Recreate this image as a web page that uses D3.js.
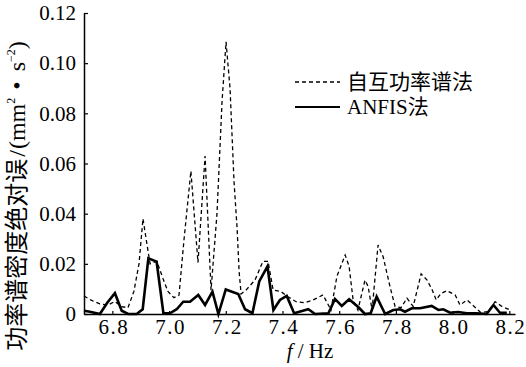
<!DOCTYPE html>
<html>
<head>
<meta charset="utf-8">
<script src="https://cdn.jsdelivr.net/npm/d3@7"></script>
<style>
    body { margin: 0; background: #fff; }
    svg { display: block; }
    text { font-family: "Liberation Serif", "Times New Roman", "DejaVu Serif", "Noto Sans CJK SC", serif; fill: #000; }
</style>
</head>
<body>
<script>
    // 自互功率谱法 (dashed)
    var crossFreq = [6.700, 6.725, 6.756, 6.785, 6.809, 6.831, 6.855, 6.876, 6.894, 6.908,
        6.919, 6.933, 6.957, 6.979, 6.996, 7.017, 7.035, 7.053, 7.077, 7.102,
        7.127, 7.148, 7.169, 7.187, 7.201, 7.215, 7.229, 7.240, 7.247, 7.254,
        7.271, 7.303, 7.331, 7.349, 7.367, 7.395, 7.419, 7.448, 7.480, 7.508,
        7.543, 7.571, 7.592, 7.621, 7.635, 7.649, 7.666, 7.691, 7.702, 7.716,
        7.737, 7.755, 7.779, 7.797, 7.818, 7.839, 7.861, 7.889, 7.910, 7.928,
        7.942, 7.959, 7.980, 8.009, 8.026, 8.051, 8.076, 8.100, 8.125, 8.150,
        8.174, 8.203];
    var crossErr = [0.0072, 0.0055, 0.0040, 0.0036, 0.0050, 0.0030, 0.0025, 0.0090, 0.0200, 0.0380,
        0.0300, 0.0200, 0.0210, 0.0140, 0.0090, 0.0065, 0.0075, 0.0300, 0.0570, 0.0205,
        0.0630, 0.0095, 0.0400, 0.0850, 0.1085, 0.0900, 0.0530, 0.0340, 0.0170, 0.0080,
        0.0095, 0.0135, 0.0210, 0.0210, 0.0096, 0.0089, 0.0069, 0.0049, 0.0045, 0.0056,
        0.0076, 0.0016, 0.0150, 0.0235, 0.0190, 0.0056, 0.0016, 0.0135, 0.0110, 0.0016,
        0.0275, 0.0228, 0.0110, 0.0030, 0.0025, 0.0063, 0.0030, 0.0160, 0.0135, 0.0096,
        0.0056, 0.0082, 0.0093, 0.0076, 0.0036, 0.0056, 0.0030, 0.0005, 0.0010, 0.0049,
        0.0030, 0.0016];

    // ANFIS法 (solid)
    var anfisFreq = [6.700, 6.721, 6.756, 6.782, 6.809, 6.833, 6.856, 6.886, 6.907, 6.927,
        6.956, 6.980, 7.003, 7.027, 7.050, 7.074, 7.103, 7.127, 7.153, 7.174,
        7.200, 7.244, 7.268, 7.294, 7.318, 7.347, 7.368, 7.391, 7.415, 7.441,
        7.491, 7.515, 7.562, 7.585, 7.609, 7.635, 7.668, 7.691, 7.711, 7.732,
        7.762, 7.791, 7.815, 7.832, 7.856, 7.885, 7.926, 7.950, 7.967, 7.991,
        8.020, 8.050, 8.085, 8.120, 8.144, 8.167, 8.191];
    var anfisErr = [0.0013, 0.0009, 0.0000, 0.0045, 0.0083, 0.0013, 0.0000, 0.0000, 0.0019, 0.0222,
        0.0209, 0.0003, 0.0003, 0.0019, 0.0049, 0.0049, 0.0076, 0.0036, 0.0089, 0.0000,
        0.0098, 0.0080, 0.0019, 0.0003, 0.0130, 0.0190, 0.0016, 0.0056, 0.0072, 0.0003,
        0.0019, 0.0000, 0.0003, 0.0060, 0.0032, 0.0059, 0.0027, 0.0000, 0.0003, 0.0069,
        0.0000, 0.0016, 0.0019, 0.0009, 0.0023, 0.0023, 0.0032, 0.0016, 0.0019, 0.0005,
        0.0008, 0.0003, 0.0003, 0.0000, 0.0036, 0.0005, 0.0005];

    var xTicks = [6.8, 7.0, 7.2, 7.4, 7.6, 7.8, 8.0, 8.2];
    var yTicks = [0, 0.02, 0.04, 0.06, 0.08, 0.10, 0.12];
    var legendLabels = ['自互功率谱法', 'ANFIS法'];

    var serif = '"Liberation Serif", "Times New Roman", "DejaVu Serif", "Noto Sans CJK SC", serif';
    var width = 526;
    var height = 367;

    var svg = d3.select('body').append('svg')
        .attr('width', width)
        .attr('height', height);

    var x = d3.scaleLinear().domain([6.7, 8.22]).range([84, 515]);
    var y = d3.scaleLinear().domain([0, 0.12]).range([314, 13]);

    var xAxis = d3.axisBottom(x)
        .tickValues(xTicks)
        .tickFormat(d3.format('.1f'))
        .tickSizeInner(-3)
        .tickSizeOuter(0)
        .tickPadding(5);

    var yAxis = d3.axisLeft(y)
        .tickValues(yTicks)
        .tickFormat(function(d) { return d === 0 ? '0' : d3.format('.2f')(d); })
        .tickSizeInner(-4)
        .tickSizeOuter(0)
        .tickPadding(8);

    var gx = svg.append('g')
        .attr('class', 'x-axis')
        .attr('transform', 'translate(0,' + y(0) + ')')
        .call(xAxis);

    var gy = svg.append('g')
        .attr('class', 'y-axis')
        .attr('transform', 'translate(' + x.range()[0] + ',0)')
        .call(yAxis);

    [gx, gy].forEach(function(g) {
        g.attr('font-family', serif).attr('font-size', 21);
        g.selectAll('path.domain').attr('stroke', '#000').attr('stroke-width', 1.5);
        g.selectAll('.tick line').attr('stroke', '#000').attr('stroke-width', 1.2);
        g.selectAll('.tick text')
            .attr('fill', '#000')
            .style('font-size', '21px')
            .style('font-family', serif);
    });
    gx.selectAll('.tick text')
        .style('letter-spacing', '1.5px')
        .attr('dx', 1);

    var line = d3.line()
        .x(function(d) { return x(d[0]); })
        .y(function(d) { return y(d[1]); });

    var crossData = d3.zip(crossFreq, crossErr);
    var anfisData = d3.zip(anfisFreq, anfisErr);

    svg.append('path')
        .datum(crossData)
        .attr('class', 'cross-line')
        .attr('fill', 'none')
        .attr('stroke', '#000')
        .attr('stroke-width', 1.3)
        .attr('stroke-dasharray', '4,3')
        .attr('d', line);

    svg.append('path')
        .datum(anfisData)
        .attr('class', 'anfis-line')
        .attr('fill', 'none')
        .attr('stroke', '#000')
        .attr('stroke-width', 2.6)
        .attr('stroke-linejoin', 'miter')
        .attr('d', line);

    // legend
    var legend = svg.append('g').attr('class', 'legend');
    var legendRows = [
        { label: legendLabels[0], dash: '4,3', width: 1.3, y: 82 },
        { label: legendLabels[1], dash: null, width: 2.2, y: 107 }
    ];
    legendRows.forEach(function(row) {
        legend.append('line')
            .attr('x1', 295).attr('x2', 340)
            .attr('y1', row.y).attr('y2', row.y)
            .attr('stroke', '#000')
            .attr('stroke-width', row.width)
            .attr('stroke-dasharray', row.dash);
        legend.append('text')
            .attr('x', 347)
            .attr('y', row.y + 7)
            .style('font-size', '21px')
            .text(row.label);
    });

    // axis titles
    var xTitle = svg.append('text')
        .attr('x', 310)
        .attr('y', 358)
        .attr('text-anchor', 'middle')
        .style('font-size', '21px');
    xTitle.append('tspan').style('font-style', 'italic').text('f');
    xTitle.append('tspan').text(' / Hz');

    var yTitle = svg.append('text')
        .attr('transform', 'translate(25,196) rotate(-90)')
        .attr('text-anchor', 'middle')
        .style('font-size', '24px');
    yTitle.append('tspan').text('功率谱密度绝对误');
    yTitle.append('tspan').attr('dx', 2).text('/');
    yTitle.append('tspan').attr('dx', 1).text('(mm');
    yTitle.append('tspan').attr('dy', -10).style('font-size', '12px').text('2');
    yTitle.append('tspan').attr('dy', 10).attr('dx', 8).text('•');
    yTitle.append('tspan').attr('dx', 10).text('s');
    yTitle.append('tspan').attr('dy', -10).style('font-size', '12px').text('−2');
    yTitle.append('tspan').attr('dy', 10).text(')');
</script>
</body>
</html>
